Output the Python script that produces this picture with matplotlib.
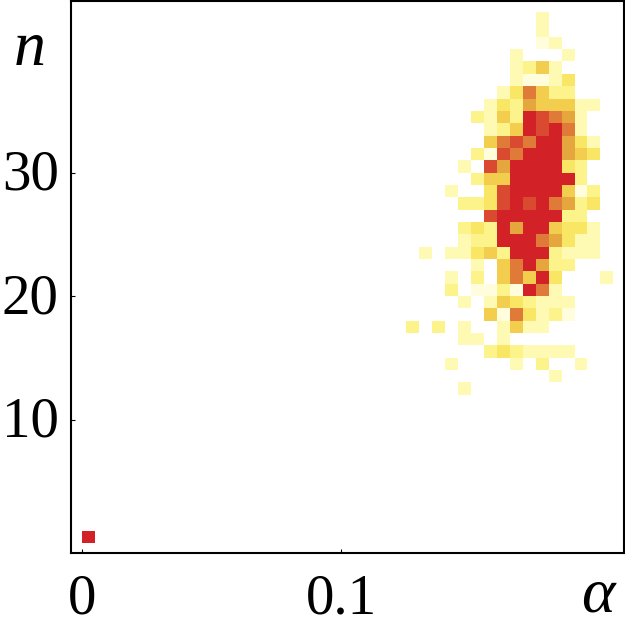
import numpy as np
import matplotlib
matplotlib.use("Agg")
import matplotlib.pyplot as plt
from matplotlib.colors import ListedColormap, BoundaryNorm
from matplotlib.transforms import ScaledTranslation

# histogram levels
# columns are alpha bins 25..40 (bin width 0.005), rows are n = 43 down to 13
ALPHA_BIN = 0.005
FIRST_COL = 25
TOP_N = 43
levels = [
    [0, 0, 0, 0, 0, 0, 0, 0, 0, 0, 2, 0, 0, 0, 0, 0],
    [0, 0, 0, 0, 0, 0, 0, 0, 0, 0, 2, 0, 0, 0, 0, 0],
    [0, 0, 0, 0, 0, 0, 0, 0, 0, 0, 1, 2, 0, 0, 0, 0],
    [0, 0, 0, 0, 0, 0, 0, 0, 2, 0, 0, 0, 2, 0, 0, 0],
    [0, 0, 0, 0, 0, 0, 0, 0, 2, 3, 5, 2, 0, 0, 0, 0],
    [0, 0, 0, 0, 0, 0, 0, 0, 2, 1, 1, 2, 4, 0, 0, 0],
    [0, 0, 0, 0, 0, 0, 0, 2, 4, 7, 5, 3, 3, 0, 0, 0],
    [0, 0, 0, 0, 0, 0, 2, 4, 3, 6, 5, 5, 5, 2, 2, 0],
    [0, 0, 0, 0, 0, 3, 2, 5, 3, 9, 8, 7, 6, 2, 0, 0],
    [0, 0, 0, 0, 0, 0, 2, 3, 5, 9, 8, 9, 7, 2, 0, 0],
    [0, 0, 0, 0, 0, 0, 5, 7, 8, 7, 9, 9, 6, 4, 2, 0],
    [0, 0, 0, 0, 0, 3, 1, 8, 7, 9, 9, 9, 6, 5, 4, 0],
    [0, 0, 0, 0, 2, 0, 8, 6, 9, 9, 9, 9, 4, 3, 0, 0],
    [0, 0, 0, 0, 0, 3, 5, 5, 9, 9, 9, 9, 9, 3, 0, 0],
    [0, 0, 0, 2, 0, 0, 4, 8, 9, 9, 9, 9, 5, 1, 3, 0],
    [0, 0, 0, 0, 3, 3, 4, 8, 9, 8, 9, 7, 6, 3, 4, 0],
    [0, 0, 0, 0, 0, 0, 8, 9, 9, 9, 9, 9, 3, 3, 0, 0],
    [0, 0, 0, 0, 3, 4, 3, 9, 6, 9, 9, 5, 4, 4, 2, 0],
    [0, 0, 0, 0, 2, 3, 3, 9, 9, 9, 7, 6, 4, 2, 2, 0],
    [0, 2, 0, 2, 2, 4, 5, 3, 9, 9, 9, 3, 2, 2, 2, 0],
    [0, 0, 0, 0, 0, 2, 0, 5, 7, 9, 6, 3, 3, 0, 0, 0],
    [0, 0, 0, 2, 0, 3, 0, 5, 7, 5, 9, 4, 0, 0, 0, 2],
    [0, 0, 0, 3, 0, 1, 1, 3, 1, 9, 7, 2, 0, 0, 0, 0],
    [0, 0, 0, 0, 2, 0, 2, 5, 4, 3, 2, 2, 2, 0, 0, 0],
    [0, 0, 0, 0, 0, 0, 5, 1, 7, 4, 2, 3, 1, 0, 0, 0],
    [3, 0, 3, 0, 2, 0, 0, 2, 5, 2, 2, 0, 0, 0, 0, 0],
    [0, 0, 0, 0, 2, 2, 0, 2, 0, 0, 0, 0, 0, 0, 0, 0],
    [0, 0, 0, 0, 0, 0, 3, 4, 3, 2, 2, 2, 2, 0, 0, 0],
    [0, 0, 0, 2, 0, 0, 0, 0, 2, 0, 3, 0, 0, 2, 0, 0],
    [0, 0, 0, 0, 0, 0, 0, 0, 0, 0, 0, 2, 0, 0, 0, 0],
    [0, 0, 0, 0, 2, 0, 0, 0, 0, 0, 0, 0, 0, 0, 0, 0],
]
# the lone cell down in the corner: alpha bin 0, n = 1
corner_level = [[9]]
xtick_vals = [0, 0.1]
xtick_text = ["0", "0.1"]
ytick_vals = [10, 20, 30]

palette = ["#FFFFFF", "#FFFDDC", "#FEFAB4", "#FCF38A", "#F8E664",
           "#F2CD4E", "#E6A63E", "#E07A38", "#DA4A30", "#D32128"]
cmap = ListedColormap(palette)
norm = BoundaryNorm(np.arange(-0.5, 10.5), cmap.N)

plt.rcParams["font.family"] = ["Liberation Serif", "DejaVu Serif"]

fig = plt.figure(figsize=(6.25, 6.35), dpi=100)
ax = fig.add_axes([70.5 / 625, 82 / 635, 553.5 / 625, 552 / 635])

grid = np.array(levels)
x_edges = (FIRST_COL + np.arange(grid.shape[1] + 1)) * ALPHA_BIN
y_edges = TOP_N - np.arange(grid.shape[0] + 1)
ax.pcolormesh(x_edges, y_edges, grid, cmap=cmap, norm=norm, linewidth=0)
ax.pcolormesh([0, ALPHA_BIN], [0, 1], corner_level, cmap=cmap, norm=norm)

ax.set_xlim(-0.00463, 0.2091)
ax.set_ylim(-0.81, 43.9)
ax.set_xticks(xtick_vals)
ax.set_xticklabels(xtick_text)
ax.set_yticks(ytick_vals)
ax.tick_params(direction="in", length=3, width=0.8, labelsize=41)
ax.tick_params(axis="x", pad=15)
ax.tick_params(axis="y", pad=8.5)
for side in ax.spines.values():
    side.set_linewidth(1.5)

# y labels sit a few pixels higher than the default centring
nudge = ScaledTranslation(0, 3 / 100, fig.dpi_scale_trans)
for label in ax.get_yticklabels():
    label.set_transform(label.get_transform() + nudge)

fig.text(30 / 625, 1 - 50 / 635, "n", fontsize=46, style="italic",
         ha="center", va="center")
fig.text(598 / 625, 1 - 596 / 635, "α", fontsize=46, style="italic",
         ha="center", va="center")

fig.savefig("out.png", dpi=100)
